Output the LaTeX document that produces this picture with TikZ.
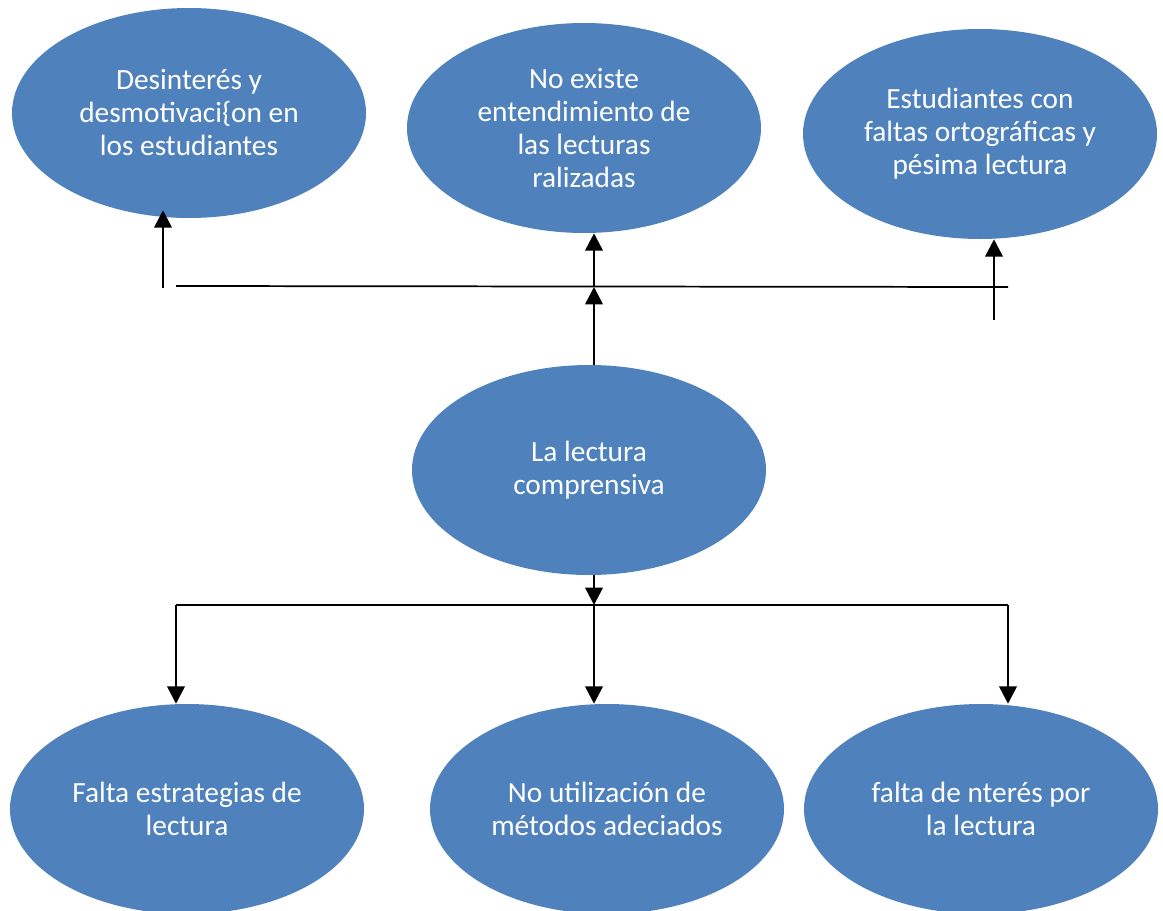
\documentclass[tikz,border=0pt]{standalone}
\usepackage{fontspec}
\setmainfont{Carlito}
\usetikzlibrary{shapes.geometric,arrows.meta}
\definecolor{ovalblue}{HTML}{4F81BD}

\begin{document}
\begin{tikzpicture}[x=0.75pt,y=-0.75pt,
	oval/.style={ellipse, fill=ovalblue, text=white, inner sep=0pt, align=center,
		minimum width=265.5pt, minimum height=157.5pt, font=\fontsize{22}{24.75}\selectfont},
	arr/.style={line width=2pt, -{Triangle[width=13pt,length=13pt]}},
	bar/.style={line width=1.3pt}]
	
	\useasboundingbox (0,0) rectangle (1163,910);
	
	%effects
	\node[oval] (e1) at (189,113){Desinterés y\\desmotivaci\{on en\\los estudiantes};
	\node[oval] (e2) at (584,128){No existe\\entendimiento de\\las lecturas\\ralizadas};
	\node[oval] (e3) at (980,134){Estudiantes con\\faltas ortográficas y\\pésima lectura};
	
	%problem
	\node[oval] (p) at (589,470){La lectura\\comprensiva};
	
	%causes
	\node[oval] (c1) at (187,809){Falta estrategias de\\lectura};
	\node[oval] (c2) at (607,809){No utilización de\\métodos adeciados};
	\node[oval] (c3) at (981,809){falta de nterés por\\la lectura};
	
	%bar points
	\coordinate (tb1) at (176,286);
	\coordinate (tb2) at (1008,287);
	\coordinate (tm) at (594,287);
	\coordinate (a1) at (163,288);
	\coordinate (a3) at (994,320);
	\coordinate (bb1) at (176,605);
	\coordinate (bb2) at (1008,605);
	\coordinate (bm) at (594,605);
	
	\draw[bar] (tb1) -- (tb2);
	\draw[arr, shorten >=-6pt] (a1) -- (a1 |- e1.south);
	\draw[arr] (p.north -| tm) -- (tm);
	\draw[arr] (tm) -- (tm |- e2.south);
	\draw[arr] (a3) -- (a3 |- e3.south);
	
	\draw[arr] (p.south -| bm) -- (bm);
	\draw[bar] (bb1) -- (bb2);
	\draw[arr] (bb1) -- (bb1 |- c1.north);
	\draw[arr] (bm) -- (bm |- c2.north);
	\draw[arr] (bb2) -- (bb2 |- c3.north);
	
\end{tikzpicture}
\end{document}
